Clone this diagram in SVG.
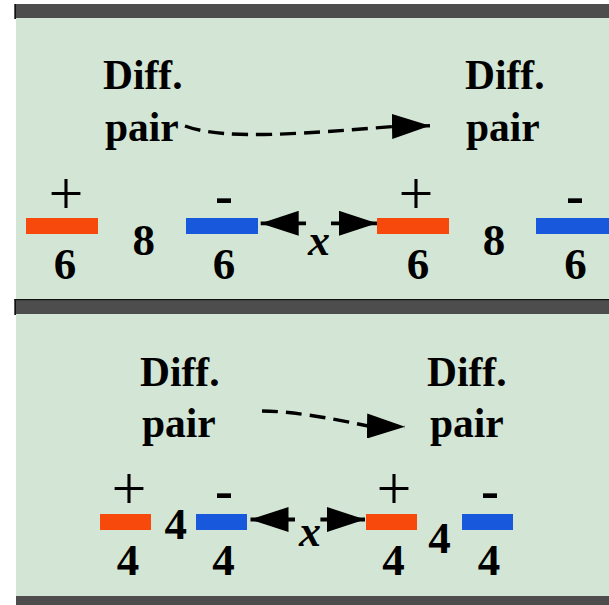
<svg xmlns="http://www.w3.org/2000/svg" width="609" height="605" viewBox="0 0 609 605">
<style>
.bg{fill:#d3e6d5}
.bar{fill:#4d4d4d}
.edge{fill:#111}
.lbl{font-family:"Liberation Serif","Times New Roman",serif;font-weight:bold;font-size:41.5px;fill:#000}
.num{font-family:"Liberation Serif","Times New Roman",serif;font-weight:bold;font-size:45px;fill:#000;text-anchor:middle}
.plus{font-family:"Liberation Serif","Times New Roman",serif;font-size:62px;fill:#000;text-anchor:middle}
.minus{font-family:"Liberation Serif","Times New Roman",serif;font-weight:bold;font-size:54px;fill:#000;text-anchor:middle}
.var{font-family:"Liberation Serif","Times New Roman",serif;font-weight:bold;font-style:italic;font-size:44px;fill:#000;text-anchor:middle}
.pos{fill:#f6490b}
.neg{fill:#1758dd}
.dash{fill:none;stroke:#000;stroke-width:3.4;stroke-dasharray:16 8}
.solid{fill:none;stroke:#000;stroke-width:3.8}
</style>
<defs>
<marker id="ah" markerUnits="userSpaceOnUse" markerWidth="38" markerHeight="25" refX="38" refY="12.5" orient="auto" viewBox="0 0 38 25">
<path d="M0,0 L38,12.5 L0,25 z" fill="#000" stroke="none"/>
</marker>
</defs>
<rect x="0" y="0" width="609" height="605" fill="#fff"/>
<g id="panel-top">
<rect class="bg" x="16" y="18" width="593" height="281"/>
<rect class="bar" x="16" y="4" width="593" height="14"/>
<rect class="edge" x="14.3" y="4" width="1.7" height="15"/>
</g>
<g id="panel-bottom">
<rect class="bg" x="16" y="314" width="593" height="282"/>
<rect class="bar" x="16" y="299" width="593" height="15"/>
<rect class="edge" x="14.3" y="299" width="594.7" height="1.2"/>
<rect class="edge" x="14.3" y="299" width="1.7" height="16"/>
<rect class="bar" x="16" y="596" width="593" height="9"/>
</g>
<g id="connectors">
<path class="dash" d="M185,126 C225,141 310,133 393,126.5 L430,125.8" marker-end="url(#ah)"/>
<path class="solid" d="M306,223.3 L260.7,223.3" marker-end="url(#ah)"/>
<path class="solid" d="M331,223.3 L377,223.3" marker-end="url(#ah)"/>
<path class="dash" d="M262,411 C290,411 330,418 368,426 L405,426.7" marker-end="url(#ah)"/>
<path class="solid" d="M295,519.5 L250.5,519.5" marker-end="url(#ah)"/>
<path class="solid" d="M320.4,519.5 L365,519.5" marker-end="url(#ah)"/>
</g>
<g id="x-top"><text class="var" x="319" y="255">x</text></g>
<g id="x-bottom"><text class="var" x="310" y="546">x</text></g>
<g id="pair-top-left"><text class="lbl" x="103" y="89">Diff.</text><text class="lbl" x="105" y="141">pair</text></g>
<g id="pair-top-right"><text class="lbl" x="465" y="89">Diff.</text><text class="lbl" x="466" y="141">pair</text></g>
<g id="pair-bottom-left"><text class="lbl" x="140" y="386">Diff.</text><text class="lbl" x="142" y="437">pair</text></g>
<g id="pair-bottom-right"><text class="lbl" x="427" y="386">Diff.</text><text class="lbl" x="430" y="437">pair</text></g>
<g id="t-pos1"><rect class="pos" x="26" y="218" width="72" height="16"/><text class="plus" x="66" y="214">+</text><text class="num" x="65" y="279">6</text></g>
<g id="t-gap1"><text class="num" x="143.7" y="255">8</text></g>
<g id="t-neg1"><rect class="neg" x="186" y="218" width="72" height="16"/><text class="minus" x="224" y="214">-</text><text class="num" x="224" y="279">6</text></g>
<g id="t-pos2"><rect class="pos" x="377" y="218" width="72" height="16"/><text class="plus" x="416" y="214">+</text><text class="num" x="418" y="279">6</text></g>
<g id="t-gap2"><text class="num" x="494" y="255">8</text></g>
<g id="t-neg2"><rect class="neg" x="536" y="218" width="73" height="16"/><text class="minus" x="575" y="214">-</text><text class="num" x="575.5" y="279">6</text></g>
<g id="b-pos1"><rect class="pos" x="100" y="514" width="51" height="16"/><text class="plus" x="129" y="509">+</text><text class="num" x="128" y="575">4</text></g>
<g id="b-gap1"><text class="num" x="175.7" y="539">4</text></g>
<g id="b-neg1"><rect class="neg" x="196" y="514" width="51" height="16"/><text class="minus" x="224" y="509">-</text><text class="num" x="223.5" y="575">4</text></g>
<g id="b-pos2"><rect class="pos" x="366" y="514" width="51" height="16"/><text class="plus" x="394" y="509">+</text><text class="num" x="393.6" y="575">4</text></g>
<g id="b-gap2"><text class="num" x="439.6" y="553">4</text></g>
<g id="b-neg2"><rect class="neg" x="462" y="514" width="51" height="16"/><text class="minus" x="490" y="509">-</text><text class="num" x="489" y="575">4</text></g>
</svg>
